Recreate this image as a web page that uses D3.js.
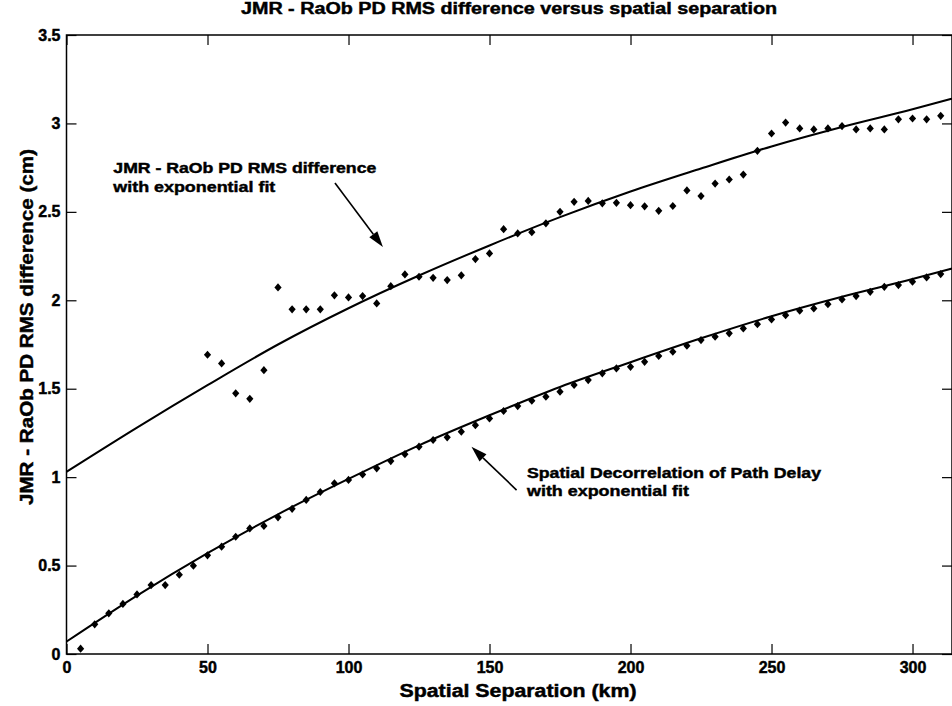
<!DOCTYPE html>
<html>
<head>
<meta charset="utf-8">
<script src="https://cdn.jsdelivr.net/npm/d3@7"></script>
<style>
  html, body { margin: 0; padding: 0; background: #fff; }
  svg { display: block; }
  text { font-family: "Liberation Sans", Arial, Helvetica, sans-serif; font-weight: bold; fill: #000;
         stroke: #000; stroke-width: 0.45px; }
</style>
</head>
<body>
<svg id="chart" width="952" height="706"></svg>
<script>
// ---------------- DATA ----------------
const title = "JMR - RaOb PD RMS difference versus spatial separation";
const xLabel = "Spatial Separation (km)";
const yLabel = "JMR - RaOb PD RMS difference (cm)";

const xTicks = [0, 50, 100, 150, 200, 250, 300];
const yTicks = [0, 0.5, 1, 1.5, 2, 2.5, 3, 3.5];
const yTickLabels = ["0", "0.5", "1", "1.5", "2", "2.5", "3", "3.5"];

// Spatial decorrelation of path delay (lower series)
const decorKm = [5,10,15,20,25,30,35,40,45,50,55,60,65,70,75,80,85,90,95,100,
  105,110,115,120,125,130,135,140,145,150,155,160,165,170,175,180,185,190,195,200,
  205,210,215,220,225,230,235,240,245,250,255,260,265,270,275,280,285,290,295,300,305,310];
const decorVal = [0.03,0.168,0.23,0.283,0.337,0.39,0.39,0.448,0.499,0.558,0.607,0.663,0.71,0.724,0.773,0.821,0.871,0.916,0.965,0.984,
  1.015,1.05,1.091,1.13,1.172,1.21,1.225,1.257,1.294,1.332,1.374,1.402,1.432,1.455,1.483,1.521,1.549,1.587,1.615,1.624,
  1.652,1.685,1.709,1.743,1.775,1.794,1.813,1.841,1.865,1.892,1.916,1.941,1.954,1.978,2.005,2.024,2.048,2.076,2.086,2.105,2.129,2.148];

// JMR - RaOb PD RMS difference (upper series)
const rmsKm = [50,55,60,65,70,75,80,85,90,95,100,105,110,115,120,125,130,135,140,145,
  150,155,160,165,170,175,180,185,190,195,200,205,210,215,220,225,230,235,240,245,
  250,255,260,265,270,275,280,285,290,295,300,305,310];
const rmsVal = [1.692,1.643,1.474,1.443,1.605,2.073,1.949,1.949,1.949,2.028,2.016,2.024,1.982,2.08,2.146,2.133,2.127,2.114,2.141,2.233,
  2.265,2.402,2.378,2.385,2.435,2.50,2.557,2.562,2.548,2.551,2.538,2.531,2.506,2.533,2.621,2.589,2.66,2.683,2.711,2.845,
  2.943,3.005,2.972,2.966,2.972,2.985,2.966,2.972,2.966,3.023,3.028,3.023,3.043];

// Exponential fit curves
const fitKm = [0,25,50,75,100,125,150,175,200,225,250,275,300,314];
const rmsFit = [1.03,1.28,1.52,1.75,1.955,2.14,2.31,2.47,2.615,2.745,2.87,2.98,3.08,3.14];
const decorFit = [0.07,0.33,0.57,0.79,0.99,1.18,1.35,1.51,1.65,1.785,1.91,2.02,2.12,2.18];

// Annotations
const ann1Lines = ["JMR - RaOb PD RMS difference", "with exponential fit"];
const ann2Lines = ["Spatial Decorrelation of Path Delay", "with exponential fit"];

// ---------------- LAYOUT ----------------
const svg = d3.select("#chart");
const L = 66.5, R = 952, T = 35, B = 654;
const x = d3.scaleLinear().domain([0, 314]).range([L, R]);
const y = d3.scaleLinear().domain([0, 3.5]).range([B, T]);

svg.append("defs").append("clipPath").attr("id", "clip")
  .append("rect").attr("x", L).attr("y", T).attr("width", R - L).attr("height", B - T);

const axB = d3.axisBottom(x).tickValues(xTicks).tickFormat(d3.format("d"))
  .tickSizeInner(-10).tickSizeOuter(0).tickPadding(8);
const axL = d3.axisLeft(y).tickValues(yTicks).tickFormat((d, i) => yTickLabels[i])
  .tickSizeInner(-10).tickSizeOuter(0).tickPadding(6);
const axT = d3.axisTop(x).tickValues(xTicks).tickFormat("").tickSizeInner(-10).tickSizeOuter(0);
const axR = d3.axisRight(y).tickValues(yTicks).tickFormat("").tickSizeInner(-10).tickSizeOuter(0);

function styleAxis(g) {
  g.select(".domain").remove();
  g.selectAll(".tick line").attr("stroke", "#000").attr("stroke-width", 1.2);
  g.selectAll(".tick text").style("font-size", "16px").style("font-weight", "bold")
    .attr("fill", "#000");
}
svg.append("g").attr("transform", `translate(0,${B})`).call(axB).call(styleAxis);
svg.append("g").attr("transform", `translate(${L},0)`).call(axL).call(styleAxis);
svg.append("g").attr("transform", `translate(0,${T})`).call(axT).call(styleAxis);
svg.append("g").attr("transform", `translate(${R},0)`).call(axR).call(styleAxis);

svg.append("rect").attr("x", L).attr("y", T).attr("width", R - L).attr("height", B - T)
  .attr("fill", "none").attr("stroke", "#000").attr("stroke-width", 1.5);

const line = d3.line().x(d => x(d[0])).y(d => y(d[1])).curve(d3.curveMonotoneX);
const plot = svg.append("g").attr("clip-path", "url(#clip)");
[rmsFit, decorFit].forEach(vals => {
  plot.append("path").datum(fitKm.map((k, i) => [k, vals[i]]))
    .attr("d", line).attr("fill", "none").attr("stroke", "#000").attr("stroke-width", 2);
});

const diamond = {
  draw(ctx, size) {
    const w = 3.6, h = 4.1;
    ctx.moveTo(0, -h); ctx.lineTo(w, 0); ctx.lineTo(0, h); ctx.lineTo(-w, 0); ctx.closePath();
  }
};
const sym = d3.symbol().type(diamond);
function drawPoints(ks, vs) {
  plot.append("g").selectAll("path").data(ks.map((k, i) => [k, vs[i]])).join("path")
    .attr("d", sym).attr("transform", d => `translate(${x(d[0])},${y(d[1])})`)
    .attr("fill", "#000");
}
drawPoints(decorKm, decorVal);
drawPoints(rmsKm, rmsVal);

function arrow(x0, y0, x1, y1) {
  const X0 = x(x0), Y0 = y(y0), X1 = x(x1), Y1 = y(y1);
  const ang = Math.atan2(Y1 - Y0, X1 - X0);
  const len = 16, hw = 5;
  const bx = X1 - len * Math.cos(ang), by = Y1 - len * Math.sin(ang);
  svg.append("line").attr("x1", X0).attr("y1", Y0).attr("x2", bx).attr("y2", by)
    .attr("stroke", "#000").attr("stroke-width", 1.6);
  const px = -Math.sin(ang) * hw, py = Math.cos(ang) * hw;
  svg.append("path")
    .attr("d", `M${X1},${Y1}L${bx + px},${by + py}L${bx - px},${by - py}Z`)
    .attr("fill", "#000");
}
arrow(95.2, 2.663, 112.2, 2.301);
arrow(159.6, 0.927, 143.6, 1.172);

function annot(lines, xv, yv, widths) {
  lines.forEach((t, i) => {
    svg.append("text").attr("x", x(xv)).attr("y", y(yv) + i * 18.3)
      .style("font-size", "15px").attr("textLength", widths[i])
      .attr("lengthAdjust", "spacingAndGlyphs").text(t);
  });
}
annot(ann1Lines, 16.6, 2.717, [263, 162]);
annot(ann2Lines, 163.3, 0.995, [294, 162]);

svg.append("text").attr("x", 509).attr("y", 14).attr("text-anchor", "middle")
  .style("font-size", "16px").attr("textLength", 536).attr("lengthAdjust", "spacingAndGlyphs")
  .text(title);
svg.append("text").attr("x", 518).attr("y", 697).attr("text-anchor", "middle")
  .style("font-size", "18px").attr("textLength", 237).attr("lengthAdjust", "spacingAndGlyphs")
  .text(xLabel);
svg.append("text").attr("transform", "translate(33,327) rotate(-90)").attr("text-anchor", "middle")
  .style("font-size", "18px").attr("textLength", 356).attr("lengthAdjust", "spacingAndGlyphs")
  .text(yLabel);
</script>
</body>
</html>
